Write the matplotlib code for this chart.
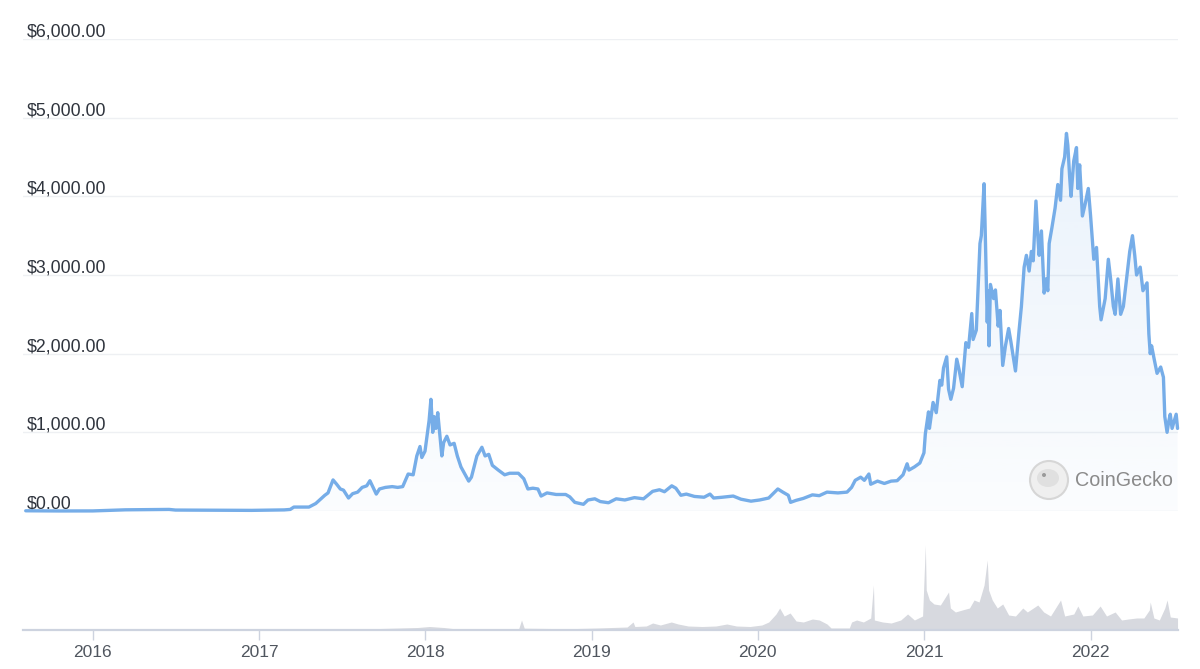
import matplotlib
matplotlib.use("Agg")
import matplotlib.pyplot as plt
import matplotlib.dates as mdates
import numpy as np
from matplotlib.patches import Polygon, Ellipse
from matplotlib.transforms import blended_transform_factory, ScaledTranslation
from datetime import datetime

plt.rcParams['font.family'] = ['Liberation Sans', 'DejaVu Sans']

# ---------------- data ----------------
price_dates = [
    "2015-08-07", "2015-10-20", "2016-01-01", "2016-03-13", "2016-06-17", "2016-07-01",
    "2016-12-15", "2017-02-25", "2017-03-10", "2017-03-18", "2017-04-20", "2017-05-05",
    "2017-05-25", "2017-06-01", "2017-06-12", "2017-06-20", "2017-06-28", "2017-07-05",
    "2017-07-16", "2017-07-25", "2017-08-05", "2017-08-15", "2017-08-25", "2017-09-01",
    "2017-09-08", "2017-09-15", "2017-09-22", "2017-10-05", "2017-10-20", "2017-11-01",
    "2017-11-12", "2017-11-24", "2017-12-05", "2017-12-13", "2017-12-20", "2017-12-24",
    "2017-12-31", "2018-01-09", "2018-01-13", "2018-01-17", "2018-01-20", "2018-01-24",
    "2018-01-28", "2018-02-01", "2018-02-06", "2018-02-10", "2018-02-17", "2018-02-24",
    "2018-03-05", "2018-03-12", "2018-03-20", "2018-04-06", "2018-04-12", "2018-04-24",
    "2018-05-05", "2018-05-12", "2018-05-20", "2018-05-28", "2018-06-10", "2018-06-24",
    "2018-07-05", "2018-07-24", "2018-08-05", "2018-08-14", "2018-08-25", "2018-09-05",
    "2018-09-12", "2018-09-25", "2018-10-15", "2018-11-05", "2018-11-14", "2018-11-25",
    "2018-12-14", "2018-12-24", "2019-01-08", "2019-01-20", "2019-02-07", "2019-02-24",
    "2019-03-15", "2019-04-05", "2019-04-25", "2019-05-15", "2019-05-30", "2019-06-10",
    "2019-06-26", "2019-07-05", "2019-07-16", "2019-07-28", "2019-08-15", "2019-09-05",
    "2019-09-18", "2019-09-26", "2019-10-15", "2019-11-08", "2019-11-25", "2019-12-17",
    "2020-01-05", "2020-01-25", "2020-02-14", "2020-02-25", "2020-03-08", "2020-03-13",
    "2020-03-25", "2020-04-10", "2020-04-30", "2020-05-15", "2020-06-01", "2020-06-25",
    "2020-07-15", "2020-07-25", "2020-08-02", "2020-08-14", "2020-08-22", "2020-09-01",
    "2020-09-05", "2020-09-20", "2020-10-05", "2020-10-20", "2020-11-02", "2020-11-15",
    "2020-11-24", "2020-11-28", "2020-12-10", "2020-12-22", "2020-12-31", "2021-01-03",
    "2021-01-10", "2021-01-12", "2021-01-20", "2021-01-27", "2021-02-04", "2021-02-08",
    "2021-02-12", "2021-02-19", "2021-02-23", "2021-02-28", "2021-03-06", "2021-03-13",
    "2021-03-18", "2021-03-25", "2021-04-02", "2021-04-08", "2021-04-15", "2021-04-18",
    "2021-04-25", "2021-05-03", "2021-05-06", "2021-05-12", "2021-05-14", "2021-05-19",
    "2021-05-21", "2021-05-23", "2021-05-26", "2021-06-02", "2021-06-06", "2021-06-12",
    "2021-06-16", "2021-06-22", "2021-06-28", "2021-07-05", "2021-07-10", "2021-07-20",
    "2021-07-28", "2021-08-02", "2021-08-08", "2021-08-13", "2021-08-19", "2021-08-24",
    "2021-08-28", "2021-09-03", "2021-09-07", "2021-09-10", "2021-09-15", "2021-09-21",
    "2021-09-25", "2021-09-29", "2021-10-02", "2021-10-08", "2021-10-15", "2021-10-21",
    "2021-10-27", "2021-10-30", "2021-11-05", "2021-11-09", "2021-11-12", "2021-11-16",
    "2021-11-19", "2021-11-25", "2021-12-01", "2021-12-04", "2021-12-08", "2021-12-14",
    "2021-12-20", "2021-12-27", "2022-01-01", "2022-01-08", "2022-01-14", "2022-01-21",
    "2022-01-24", "2022-02-02", "2022-02-09", "2022-02-14", "2022-02-20", "2022-02-24",
    "2022-03-02", "2022-03-08", "2022-03-14", "2022-03-20", "2022-03-28", "2022-04-03",
    "2022-04-08", "2022-04-12", "2022-04-20", "2022-04-26", "2022-05-05", "2022-05-09",
    "2022-05-12", "2022-05-15", "2022-05-20", "2022-05-27", "2022-06-04", "2022-06-10",
    "2022-06-13", "2022-06-18", "2022-06-22", "2022-06-25", "2022-06-29", "2022-07-04",
    "2022-07-08", "2022-07-11",
]
price_values = [
    2.8, 0.5, 1, 15, 20, 12,
    8, 14, 20, 50, 50, 95,
    200, 230, 395, 340, 280, 265,
    165, 220, 240, 300, 320, 385,
    300, 215, 280, 300, 310, 300,
    310, 470, 460, 700, 820, 680,
    760, 1150, 1420, 1000, 1200, 1050,
    1250, 1000, 700, 870, 950, 840,
    860, 700, 560, 380, 430, 700,
    810, 700, 720, 580, 520, 460,
    480, 480, 410, 280, 290, 280,
    190, 230, 210, 210, 180, 110,
    85, 140, 155, 120, 105, 155,
    140, 170, 155, 250, 270, 245,
    320, 290, 200, 215, 185, 175,
    215, 165, 175, 190, 150, 125,
    140, 165, 280, 240, 200, 110,
    135, 160, 205, 195, 240, 230,
    240, 300, 390, 430, 390, 470,
    340, 380, 350, 380, 385, 460,
    600, 520, 560, 610, 740, 980,
    1260, 1050, 1380, 1250, 1660, 1600,
    1820, 1960, 1550, 1420, 1560, 1930,
    1800, 1580, 2140, 2080, 2510, 2180,
    2300, 3400, 3500, 4160, 3700, 2400,
    2800, 2100, 2880, 2700, 2810, 2350,
    2550, 1850, 2100, 2320, 2150, 1780,
    2300, 2600, 3100, 3250, 3050, 3300,
    3180, 3940, 3500, 3250, 3560, 2770,
    2950, 2800, 3400, 3600, 3850, 4150,
    3950, 4350, 4500, 4800, 4650, 4250,
    4000, 4450, 4620, 4100, 4400, 3750,
    3900, 4100, 3750, 3200, 3350, 2600,
    2430, 2700, 3200, 2950, 2600, 2500,
    2950, 2500, 2600, 2900, 3300, 3500,
    3250, 3000, 3100, 2800, 2900, 2250,
    2000, 2100, 1950, 1750, 1830, 1700,
    1200, 1000, 1150, 1230, 1050, 1150,
    1230, 1050,
]

volume_dates = [
    "2015-08-07", "2016-02-15", "2016-06-15", "2016-12-31", "2017-03-01", "2017-06-01",
    "2017-09-01", "2017-12-15", "2018-01-10", "2018-02-10", "2018-03-01", "2018-05-01",
    "2018-07-25", "2018-07-31", "2018-08-06", "2018-10-01", "2018-12-01", "2019-01-15",
    "2019-02-15", "2019-03-20", "2019-04-02", "2019-04-06", "2019-05-01", "2019-05-15",
    "2019-06-01", "2019-06-25", "2019-07-10", "2019-08-01", "2019-09-01", "2019-10-01",
    "2019-10-25", "2019-11-15", "2019-12-15", "2020-01-10", "2020-01-25", "2020-02-10",
    "2020-02-18", "2020-02-28", "2020-03-12", "2020-03-25", "2020-04-10", "2020-04-30",
    "2020-05-15", "2020-06-01", "2020-06-10", "2020-07-20", "2020-07-25", "2020-08-05",
    "2020-08-20", "2020-09-05", "2020-09-11", "2020-09-13", "2020-10-01", "2020-10-20",
    "2020-11-10", "2020-11-25", "2020-12-10", "2020-12-28", "2021-01-03", "2021-01-05",
    "2021-01-12", "2021-01-22", "2021-02-05", "2021-02-23", "2021-02-27", "2021-03-10",
    "2021-03-25", "2021-04-10", "2021-04-20", "2021-05-01", "2021-05-12", "2021-05-19",
    "2021-05-22", "2021-05-30", "2021-06-10", "2021-06-22", "2021-07-05", "2021-07-20",
    "2021-08-05", "2021-08-15", "2021-09-07", "2021-09-20", "2021-10-05", "2021-10-27",
    "2021-11-05", "2021-11-25", "2021-12-04", "2021-12-15", "2022-01-05", "2022-01-22",
    "2022-02-05", "2022-02-24", "2022-03-10", "2022-03-25", "2022-04-12", "2022-04-28",
    "2022-05-10", "2022-05-12", "2022-05-20", "2022-06-01", "2022-06-13", "2022-06-18",
    "2022-06-25", "2022-07-11",
]
volume_values = [
    0.3, 0.5, 0.8, 0.5, 0.8, 1.5,
    1.2, 2.5, 3.5, 2.5, 1.5, 1.5,
    1.5, 10, 1.8, 1.5, 1.5, 2,
    2.5, 3, 8, 3.5, 4, 7,
    5, 8, 6, 4, 3.5, 4,
    6, 4, 3.5, 5, 8, 16,
    22, 14, 17, 9, 8, 11,
    10, 6, 2, 2, 8, 10,
    8, 12, 45, 10, 8, 7,
    10, 16, 10, 14, 85, 40,
    30, 26, 25, 38, 22, 18,
    20, 22, 30, 28, 45, 70,
    40, 30, 22, 26, 15, 14,
    22, 18, 25, 18, 14, 30,
    14, 16, 24, 14, 15, 24,
    14, 18, 10, 11, 12, 12,
    20, 28, 12, 10, 22, 30,
    13, 12,
]

price_ticks = [0, 1000, 2000, 3000, 4000, 5000, 6000]
price_tick_labels = ["$0.00", "$1,000.00", "$2,000.00", "$3,000.00",
                     "$4,000.00", "$5,000.00", "$6,000.00"]
year_ticks = ["2016", "2017", "2018", "2019", "2020", "2021", "2022"]

# ---------------- figure ----------------
W, H = 1200, 669
fig = plt.figure(figsize=(W / 100, H / 100), dpi=100)
fig.patch.set_facecolor("white")

x_left, x_right = 23, 1178
ax = fig.add_axes([x_left / W, (H - 511) / H, (x_right - x_left) / W, (511 - 39) / H])
axv = fig.add_axes([x_left / W, (H - 630) / H, (x_right - x_left) / W, 100 / H])

pdates = mdates.date2num([datetime.strptime(d, "%Y-%m-%d") for d in price_dates])
vdates = mdates.date2num([datetime.strptime(d, "%Y-%m-%d") for d in volume_dates])
pvals = np.array(price_values, dtype=float)
vvals = np.array(volume_values, dtype=float)

xmin = mdates.date2num(datetime(2015, 8, 1))
xmax = mdates.date2num(datetime(2022, 7, 12))

for a in (ax, axv):
    a.set_xlim(xmin, xmax)
    a.set_facecolor("none")
    for s in a.spines.values():
        s.set_visible(False)

# price axes
ax.set_ylim(0, 6000)
ax.set_yticks(price_ticks)
ax.set_yticklabels([])
ax.tick_params(axis="y", length=0)
ax.set_xticks([])
ax.grid(axis="y", color="#eef0f3", lw=1.0)
ax.set_axisbelow(True)

trans = blended_transform_factory(ax.transAxes, ax.transData) + \
    ScaledTranslation(4 / 100, 2.5 / 100, fig.dpi_scale_trans)
for v, lab in zip(price_ticks, price_tick_labels):
    ax.text(0, v, lab, transform=trans, ha="left", va="baseline",
            fontsize=12.8, color="#2f343d")

# gradient fill under the line
line_color = "#76ade8"
poly_xy = np.column_stack([np.r_[pdates, pdates[-1], pdates[0]],
                           np.r_[pvals, 0, 0]])
poly = Polygon(poly_xy, closed=True, facecolor="none", edgecolor="none",
               transform=ax.transData)
ax.add_patch(poly)
grad = np.linspace(0.0, 1.0, 256).reshape(-1, 1)
rgb = np.array(matplotlib.colors.to_rgb(line_color))
img = np.zeros((256, 1, 4))
img[..., :3] = rgb
img[..., 3] = (0.03 + 0.13 * grad[:, 0]).reshape(-1, 1)
im = ax.imshow(img, extent=[xmin, xmax, 0, 5000], origin="lower",
               aspect="auto", zorder=1, interpolation="bilinear")
im.set_clip_path(poly)
ax.set_xlim(xmin, xmax)
ax.set_ylim(0, 6000)

ax.plot(pdates, pvals, color=line_color, lw=2.4, clip_on=False,
        solid_joinstyle="round", solid_capstyle="round", zorder=3)

# volume axes
axv.set_ylim(0, 100)
axv.fill_between(vdates, vvals, 0, color="#d7d9df", lw=0)
axv.spines["bottom"].set_visible(True)
axv.spines["bottom"].set_color("#cdd3df")
axv.spines["bottom"].set_linewidth(1.6)
axv.set_yticks([])
yt = mdates.date2num([datetime(int(y), 1, 1) for y in year_ticks])
axv.set_xticks(yt)
axv.set_xticklabels(year_ticks)
axv.tick_params(axis="x", length=7.5, width=1.0, color="#cdd3df",
                labelsize=12.5, labelcolor="#50565f", pad=3)

# CoinGecko watermark
cx, cy, r = 1049, 480, 19
fig.patches.append(Ellipse((cx / W, 1 - cy / H), 2 * r / W, 2 * r / H,
                           transform=fig.transFigure, facecolor="#efefef",
                           edgecolor="#d6d6d6", lw=1.5, zorder=5))
fig.patches.append(Ellipse(((cx - 1) / W, 1 - (cy - 2) / H), 22 / W, 18 / H,
                           transform=fig.transFigure, facecolor="#e0e0e0",
                           edgecolor="none", zorder=6))
fig.patches.append(Ellipse(((cx - 5) / W, 1 - (cy - 5) / H), 4 / W, 4 / H,
                           transform=fig.transFigure, facecolor="#9a9a9a",
                           edgecolor="none", zorder=7))
fig.text(1075 / W, 1 - 480 / H, "CoinGecko", ha="left", va="center",
         fontsize=14.2, color="#8a8a8a")

fig.savefig("out.png", dpi=100, facecolor="white")
